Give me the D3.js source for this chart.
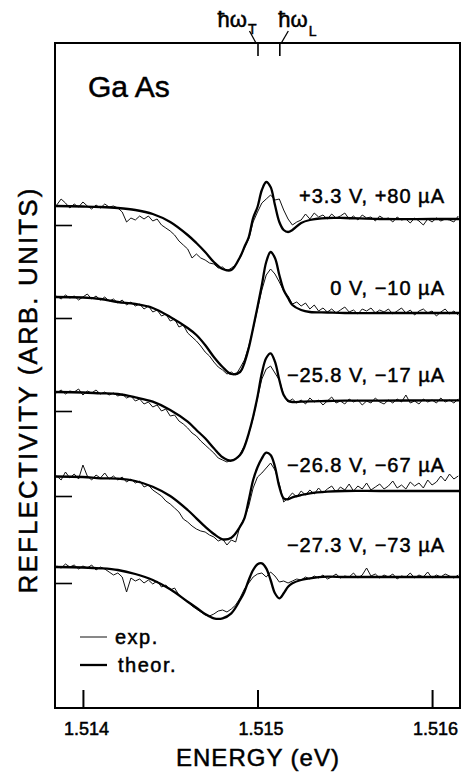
<!DOCTYPE html>
<html><head><meta charset="utf-8">
<script src="https://cdn.jsdelivr.net/npm/d3@7"></script>
<style>html,body{margin:0;padding:0;background:#fff;} svg{display:block;font-family:"Liberation Sans",Arial,sans-serif;} svg text{stroke:#000;stroke-width:0.5px;fill:#000;}</style>
</head><body><svg id="c" width="464" height="772"></svg>
<script>
// ---------------- DATA ----------------
const xTicks = [1.514, 1.515, 1.516];
const markers = [{name:"T", E:1.515}, {name:"L", E:1.515125}];
const curveLabels = ["+3.3 V, +80 µA", "0 V, −10 µA", "−25.8 V, −17 µA", "−26.8 V, −67 µA", "−27.3 V, −73 µA"];
// vertical offsets (arb. units) of each trace = left axis ticks
const offsets = [48.3, 39.0, 29.7, 21.2, 12.5];

// theory energy grid, meV above 1.514 eV
const theoryMeV = [-0.16,0,0.1,0.2,0.3,0.4,0.5,0.6,0.65,0.7,0.75,0.8,0.85,0.9,0.925,0.95,0.975,1.0,1.025,1.05,1.075,1.1,1.125,1.15,1.175,1.2,1.25,1.3,1.4,1.5,1.7,2.0,2.16];
const theory1 = [1.9,1.85,1.8,1.7,1.5,1.1,0.3,-1.0,-1.8,-2.7,-3.7,-4.4,-4.5,-3.2,-2.2,-1.2,0.7,1.8,3.5,4.3,3.8,2.0,0.3,-0.5,-0.7,-0.5,0.2,0.5,0.7,0.7,0.6,0.6,0.6];
const theory2 = [2.1,2.05,1.9,1.6,1.4,1.0,0.1,-1.0,-1.7,-2.7,-3.9,-4.9,-5.6,-5.4,-4.5,-3.0,-1.0,1.1,3.3,5.6,6.6,6.0,4.3,2.8,2.0,1.3,0.8,0.6,0.55,0.5,0.5,0.5,0.5];
const theory3 = [1.9,1.85,1.77,1.7,1.37,0.93,0.1,-1.07,-1.9,-2.73,-3.73,-4.63,-4.97,-4.4,-3.57,-2.23,-0.57,1.43,3.8,5.3,5.77,4.93,3.1,1.6,1.03,0.9,0.93,0.97,1.0,1.03,1.03,1.07,1.07];
const theory4 = [1.95,1.9,1.77,1.73,1.5,0.93,0.0,-1.4,-2.23,-3.07,-3.8,-4.33,-4.17,-3.07,-2.23,-0.4,1.6,2.87,3.77,4.33,4.1,2.93,0.93,-0.23,-0.33,-0.13,0.1,0.27,0.43,0.5,0.5,0.5,0.5];
const theory5 = [1.6,1.55,1.47,1.3,0.9,0.3,-0.63,-1.87,-2.47,-3.1,-3.53,-3.53,-3.03,-1.7,-0.87,0.3,1.3,1.87,1.97,1.47,0.3,-1.03,-1.53,-1.03,-0.37,-0.03,0.3,0.47,0.63,0.6,0.6,0.6,0.6];

// experimental energy grid, meV above 1.514 eV
const expMeV = [-0.15,-0.125,-0.1,-0.075,-0.05,-0.025,0,0.025,0.05,0.075,
 0.1,0.125,0.15,0.175,0.2,0.225,0.25,0.275,0.3,0.325,
 0.35,0.375,0.4,0.425,0.45,0.475,0.5,0.525,0.55,0.575,
 0.6,0.625,0.65,0.675,0.7,0.725,0.75,0.775,0.8,0.825,
 0.85,0.875,0.9,0.925,0.95,0.975,1.0,1.025,1.05,1.075,
 1.1,1.125,1.15,1.175,1.2,1.225,1.25,1.275,1.3,1.325,
 1.35,1.375,1.4,1.425,1.45,1.475,1.5,1.525,1.55,1.575,
 1.6,1.625,1.65,1.675,1.7,1.725,1.75,1.775,1.8,1.825,
 1.85,1.875,1.9,1.925,1.95,1.975,2.0,2.025,2.05,2.075,
 2.1,2.125,2.15];
const exp1 = [2.0,2.6,2.2,1.7,2.1,1.8,2.3,1.9,1.6,2.0,
 1.7,2.1,1.8,1.9,1.7,1.3,0.3,0.7,0.5,0.9,
 0.6,0.9,0.4,0.6,0.0,-0.3,-0.6,-1.0,-1.6,-2.0,
 -2.4,-3.3,-2.9,-3.3,-3.5,-3.8,-3.9,-4.3,-4.2,-4.6,
 -4.3,-4.0,-3.3,-2.3,-1.4,0.3,1.3,2.2,2.6,3.0,
 2.5,2.6,1.5,0.6,0.0,0.3,0.5,1.1,0.6,1.2,
 0.8,1.0,0.6,1.1,0.7,0.9,1.2,0.6,0.9,0.5,
 1.0,0.7,0.8,0.4,0.9,0.6,0.7,0.3,0.8,0.5,
 0.6,0.2,0.7,0.4,0.0,0.6,0.3,0.7,0.4,0.6,
 0.5,0.3,0.9];
const exp2 = [2.2,1.9,2.3,2.0,2.2,1.8,2.1,2.4,1.9,2.2,
 1.8,2.1,1.7,1.9,1.5,1.8,1.3,1.6,1.2,1.4,
 0.9,1.2,0.6,0.8,0.2,0.4,-0.3,-0.1,-0.9,-0.7,
 -1.5,-1.9,-2.3,-2.8,-3.4,-3.8,-4.4,-4.9,-5.2,-5.6,
 -5.4,-5.7,-5.0,-4.2,-2.8,-1.1,0.9,2.8,4.3,4.9,
 4.4,3.6,2.7,2.2,1.4,1.6,1.2,1.5,0.9,1.3,
 0.7,1.0,0.6,0.9,0.5,0.8,1.1,0.6,0.8,0.4,
 0.9,0.7,1.0,0.5,0.8,0.6,0.9,0.4,0.7,1.0,
 0.5,0.8,0.3,0.7,0.9,0.5,0.7,0.2,0.6,0.9,
 0.4,0.7,0.3];
const exp3 = [1.8,2.1,1.7,2.0,1.9,2.2,1.6,2.0,1.8,2.1,
 1.7,1.9,1.6,1.8,1.5,1.7,1.3,1.5,1.0,1.2,
 0.7,0.9,0.4,0.6,0.0,0.2,-0.5,-0.4,-1.0,-1.3,
 -1.7,-2.2,-2.5,-3.0,-3.4,-3.8,-4.2,-4.7,-4.9,-5.1,
 -4.9,-4.8,-4.3,-3.5,-2.3,-0.7,1.3,3.2,4.2,4.5,
 3.8,3.1,1.6,0.9,1.2,0.8,1.1,0.7,1.3,0.9,
 1.1,0.6,1.0,1.4,0.8,1.0,0.7,1.2,0.9,1.1,
 0.6,1.0,0.8,1.3,0.9,0.7,1.1,0.8,1.2,0.9,
 1.6,0.8,1.0,0.7,1.2,0.9,1.1,0.8,1.3,0.9,
 1.1,0.8,1.2];
const exp4 = [2.0,1.6,2.4,1.8,2.2,1.7,3.1,2.0,1.6,2.1,
 1.8,2.3,1.7,2.0,1.6,1.9,1.4,1.7,1.3,1.5,
 0.9,1.1,0.6,0.3,0.0,-0.5,-0.8,-1.2,-1.6,-2.3,
 -2.6,-3.0,-3.3,-3.5,-3.6,-3.9,-4.1,-4.5,-4.3,-4.9,
 -4.4,-4.6,-3.0,-2.2,-1.0,0.8,1.9,2.3,2.8,3.3,
 2.6,1.2,-0.6,-0.2,0.3,-0.1,0.5,0.1,0.6,0.2,
 0.8,0.3,0.7,1.0,0.4,0.9,0.6,1.2,0.5,1.0,
 0.7,1.3,0.6,0.9,1.2,0.7,1.0,1.5,0.8,1.1,
 0.7,1.4,1.0,1.3,0.8,1.6,1.1,1.4,2.0,1.5,
 2.2,1.7,2.0];
const exp5 = [1.7,1.5,1.9,1.6,1.8,1.4,1.7,1.5,1.8,1.3,
 1.6,1.4,1.1,0.8,1.0,0.6,-0.9,0.5,0.2,0.4,
 0.0,0.3,-0.1,0.2,-0.4,-0.2,-0.7,-0.5,-1.2,-1.6,
 -1.9,-2.3,-2.6,-2.9,-3.2,-3.3,-3.1,-2.8,-2.7,-2.9,
 -2.6,-2.2,-1.5,-0.6,0.0,0.6,0.9,1.0,0.6,1.1,
 0.7,0.1,0.2,0.0,0.2,0.4,0.3,0.6,0.4,0.7,
 0.5,0.8,0.4,0.6,0.9,0.5,0.7,0.6,1.0,0.5,
 0.8,1.5,0.7,0.9,0.5,0.8,0.6,0.9,0.4,0.7,
 0.6,1.0,0.5,0.8,0.6,1.1,0.5,0.8,0.6,0.9,
 0.7,0.5,0.8];

const theorySeries = [theory1, theory2, theory3, theory4, theory5];
const expSeries = [exp1, exp2, exp3, exp4, exp5];

// ---------------- DRAW ----------------
const svg = d3.select("#c");
const L = 55, R = 460, T = 43, B = 708;
const x = d3.scaleLinear().domain([1.51384, 1.51616]).range([L, R]);
const y = d3.scaleLinear().domain([0, 66.5]).range([B, T]);
const toE = m => 1.514 + m / 1000;

svg.append("defs").append("clipPath").attr("id", "clip")
  .append("rect").attr("x", L).attr("y", T).attr("width", R - L).attr("height", B - T);

const plot = svg.append("g").attr("clip-path", "url(#clip)");

const lineGen = off => d3.line()
  .x(d => x(toE(d[0])))
  .y(d => y(off + d[1]));

expSeries.forEach((s, i) => {
  plot.append("path")
    .datum(expMeV.map((m, j) => [m, s[j]]))
    .attr("fill", "none").attr("stroke", "#111").attr("stroke-width", 1)
    .attr("stroke-linejoin", "round")
    .attr("d", lineGen(offsets[i]));
});
theorySeries.forEach((s, i) => {
  plot.append("path")
    .datum(theoryMeV.map((m, j) => [m, s[j]]))
    .attr("fill", "none").attr("stroke", "#000").attr("stroke-width", 2.3)
    .attr("d", lineGen(offsets[i]).curve(d3.curveCatmullRom.alpha(0.5)));
});

// frame
svg.append("rect").attr("x", L).attr("y", T).attr("width", R - L).attr("height", B - T)
  .attr("fill", "none").attr("stroke", "#000").attr("stroke-width", 2);

// bottom axis
const xAxis = svg.append("g").attr("transform", `translate(0,${B})`)
  .call(d3.axisBottom(x).tickValues(xTicks).tickSize(-18).tickPadding(14).tickFormat(d3.format(".3f")));
xAxis.select(".domain").remove();
xAxis.selectAll(".tick line").attr("stroke", "#000").attr("stroke-width", 2);
xAxis.selectAll(".tick text").attr("font-size", 18).attr("fill", "#000")
  .attr("font-family", "Liberation Sans, Arial, sans-serif").attr("dx", 3);

// left axis (trace baselines)
const yAxis = svg.append("g").attr("transform", `translate(${L},0)`)
  .call(d3.axisLeft(y).tickValues(offsets).tickSize(-17).tickFormat(""));
yAxis.select(".domain").remove();
yAxis.selectAll(".tick line").attr("stroke", "#000").attr("stroke-width", 1.6);

// top axis: ħω markers
const tAxis = svg.append("g").attr("transform", `translate(0,${T})`)
  .call(d3.axisTop(x).tickValues(markers.map(d => d.E)).tickSize(-13).tickFormat(""));
tAxis.select(".domain").remove();
tAxis.selectAll(".tick line").attr("stroke", "#000").attr("stroke-width", 1.6);

markers.forEach(mk => {
  const px = x(mk.E);
  const isT = mk.name === "T";
  const tx = isT ? px - 40 : px - 1;
  const t = svg.append("text").attr("x", tx).attr("y", 27).attr("font-size", 22);
  t.append("tspan").text("ħω");
  t.append("tspan").attr("font-size", 14).attr("dy", isT ? 7 : 9).attr("dx", 1).text(mk.name);
  svg.append("line")
    .attr("x1", isT ? px - 8 : px + 9).attr("y1", 31)
    .attr("x2", isT ? px - 1.5 : px + 2).attr("y2", 43)
    .attr("stroke", "#000").attr("stroke-width", 1.3);
});

// curve labels
const labelDy = [-22, -23, -29, -24, -31];
curveLabels.forEach((lab, i) => {
  svg.append("text").attr("x", 445).attr("y", y(offsets[i]) + labelDy[i])
    .attr("text-anchor", "end").attr("font-size", 20).attr("letter-spacing", 1)
    .text(lab);
});

// Ga As
svg.append("text").attr("x", 88).attr("y", 97).attr("font-size", 30).text("Ga As");

// legend
svg.append("line").attr("x1", 80).attr("x2", 107).attr("y1", 637).attr("y2", 637)
  .attr("stroke", "#111").attr("stroke-width", 1);
svg.append("text").attr("x", 115).attr("y", 644).attr("font-size", 20).attr("letter-spacing", 1.5).text("exp.");
svg.append("line").attr("x1", 80).attr("x2", 107).attr("y1", 665).attr("y2", 665)
  .attr("stroke", "#000").attr("stroke-width", 2.3);
svg.append("text").attr("x", 118).attr("y", 672).attr("font-size", 20).attr("letter-spacing", 1.5).text("theor.");

// axis titles
svg.append("text").attr("x", 258).attr("y", 766).attr("text-anchor", "middle")
  .attr("font-size", 24).attr("letter-spacing", 1).text("ENERGY (eV)");
svg.append("text").attr("transform", "translate(37,391) rotate(-90)")
  .attr("text-anchor", "middle").attr("font-size", 26)
  .attr("textLength", 405).attr("lengthAdjust", "spacing")
  .text("REFLECTIVITY (ARB. UNITS)");
</script>
</body></html>
